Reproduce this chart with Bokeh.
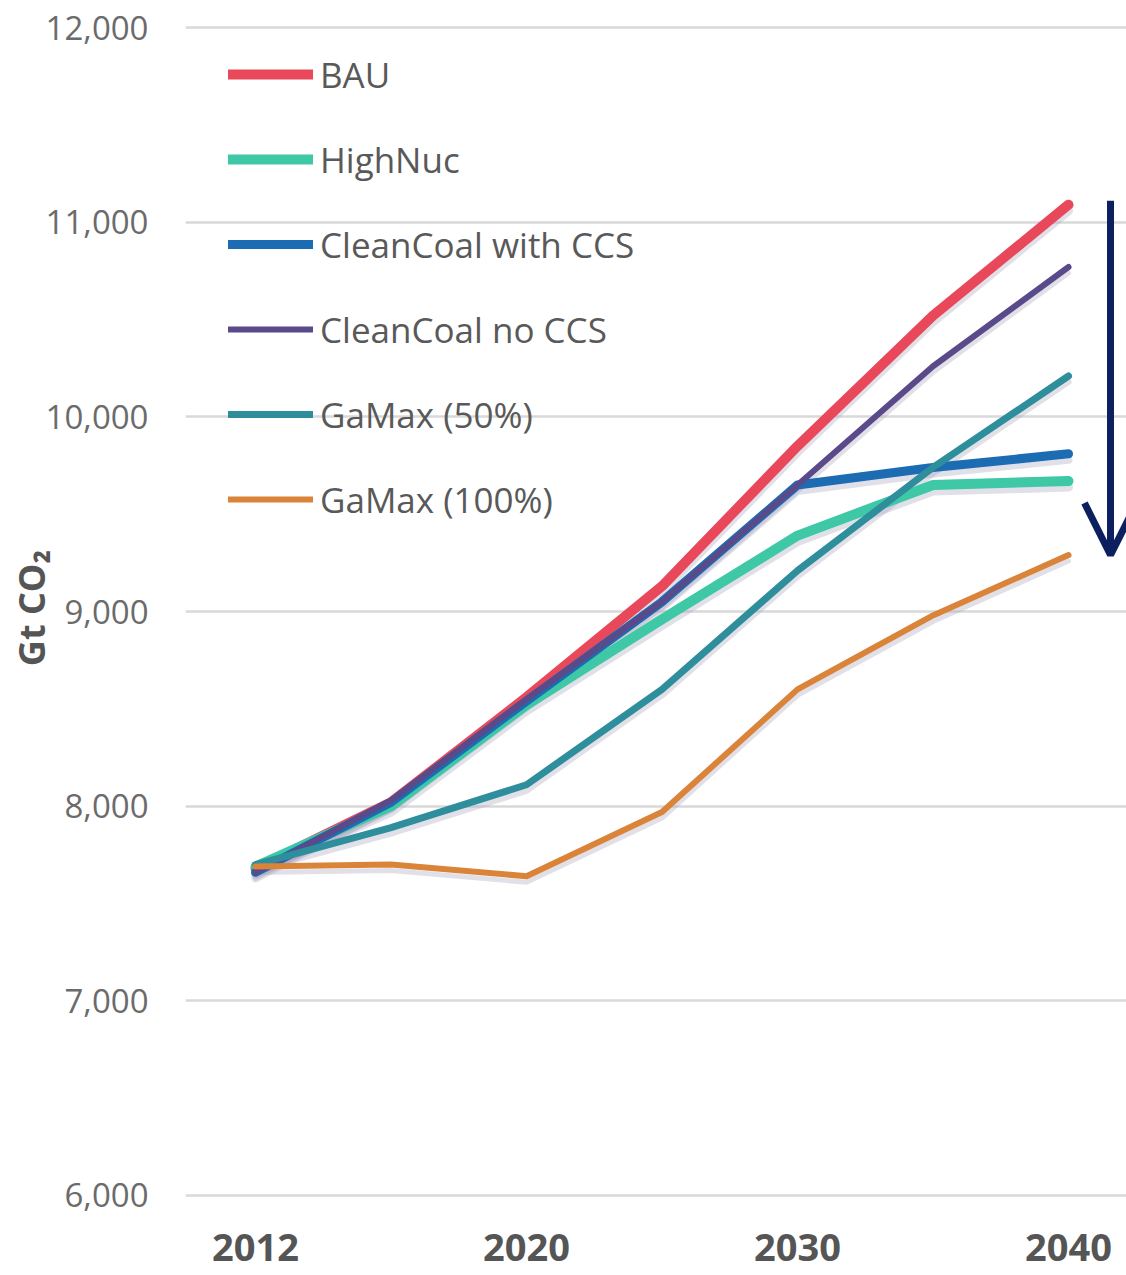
from bokeh.plotting import figure
from bokeh.models import (Range1d, FixedTicker, NumeralTickFormatter, Legend,
                          LegendItem, Arrow, OpenHead)
from bokeh.embed import file_html
from bokeh.resources import INLINE

# Projection periods (evenly spaced on the chart) and the years that get a label
periods = [2012, 2015, 2020, 2025, 2030, 2035, 2040]
tick_years = [2012, 2020, 2030, 2040]
y_ticks = [6000, 7000, 8000, 9000, 10000, 11000, 12000]

# Emissions by scenario, Gt CO2
bau = [7680, 8020, 8560, 9130, 9850, 10520, 11090]
high_nuc = [7690, 8000, 8520, 8960, 9390, 9650, 9670]
clean_coal_ccs = [7660, 8020, 8540, 9050, 9650, 9740, 9810]
clean_coal_no_ccs = [7660, 8030, 8550, 9050, 9650, 10260, 10770]
gamax_50 = [7700, 7890, 8110, 8600, 9210, 9740, 10210]
gamax_100 = [7690, 7700, 7640, 7970, 8600, 8980, 9290]

series = [
    ("BAU", bau, "#e8485a", 10),
    ("HighNuc", high_nuc, "#3ec8a6", 10),
    ("CleanCoal with CCS", clean_coal_ccs, "#1b6cb3", 9),
    ("CleanCoal no CCS", clean_coal_no_ccs, "#5a4a8a", 6),
    ("GaMax (50%)", gamax_50, "#2e8e9c", 7),
    ("GaMax (100%)", gamax_100, "#da843a", 6),
]

x = list(range(len(periods)))

Y0, Y1 = 5897, 12139
p = figure(width=1126, height=1275, output_backend="svg", toolbar_location=None,
           x_range=Range1d(-0.517, 6.428), y_range=Range1d(Y0, Y1),
           min_border_left=185, min_border_right=0, min_border_top=0,
           min_border_bottom=60)
p.outline_line_color = None
p.background_fill_color = "white"
p.border_fill_color = "white"

# Same data drawn a few pixels lower for a soft drop shadow
SHADOW = 31
p.extra_y_ranges = {"shadow": Range1d(Y0 + SHADOW, Y1 + SHADOW)}

# Axes
p.xaxis.ticker = FixedTicker(ticks=[periods.index(y) for y in tick_years])
p.xaxis.major_label_overrides = {periods.index(y): str(y) for y in tick_years}
p.xaxis.major_label_text_font = "Open Sans"
p.xaxis.major_label_text_font_style = "bold"
p.xaxis.major_label_text_font_size = "38px"
p.xaxis.major_label_text_color = "#555555"
p.xaxis.major_label_standoff = 12

p.yaxis.ticker = FixedTicker(ticks=y_ticks)
p.yaxis.formatter = NumeralTickFormatter(format="0,0")
p.yaxis.major_label_text_font = "Open Sans"
p.yaxis.major_label_text_font_size = "33px"
p.yaxis.major_label_text_color = "#6b6b6b"
p.yaxis.major_label_standoff = 31
p.yaxis.axis_label = "Gt CO\u2082"
p.yaxis.axis_label_text_font = "Open Sans"
p.yaxis.axis_label_text_font_style = "bold"
p.yaxis.axis_label_text_font_size = "36px"
p.yaxis.axis_label_text_color = "#555555"
p.yaxis.axis_label_standoff = -13

for ax in (p.xaxis, p.yaxis):
    ax.axis_line_color = None
    ax.major_tick_line_color = None
    ax.minor_tick_line_color = None

p.xgrid.grid_line_color = None
p.ygrid.grid_line_color = "#d9d9d9"
p.ygrid.grid_line_width = 2.5

for name, vals, color, w in series:
    p.line(x, vals, y_range_name="shadow", line_color="#a9a4bd", line_alpha=0.35,
           line_width=w - 1, line_cap="round", line_join="round")

items = []
for name, vals, color, w in series:
    r = p.line(x, vals, line_color=color, line_width=w,
               line_cap="round", line_join="round")
    items.append(LegendItem(label=name, renderers=[r]))

legend = Legend(items=items, location="top_left", margin=43, padding=0,
                spacing=23, glyph_width=85, glyph_height=62, label_height=62,
                label_standoff=7, label_text_font="Open Sans",
                label_text_font_size="35px", label_text_color="#595959",
                background_fill_alpha=0, border_line_color=None)
p.add_layout(legend)

# Arrow spanning the 2040 gap between the highest and lowest scenarios
navy = "#0c1f5e"
p.add_layout(Arrow(x_start=6.31, y_start=bau[-1] + 20, x_end=6.31, y_end=gamax_100[-1],
                   line_color=navy, line_width=7,
                   end=OpenHead(size=52, line_color=navy, line_width=7)))

open("out.html", "w").write(file_html(p, INLINE))
